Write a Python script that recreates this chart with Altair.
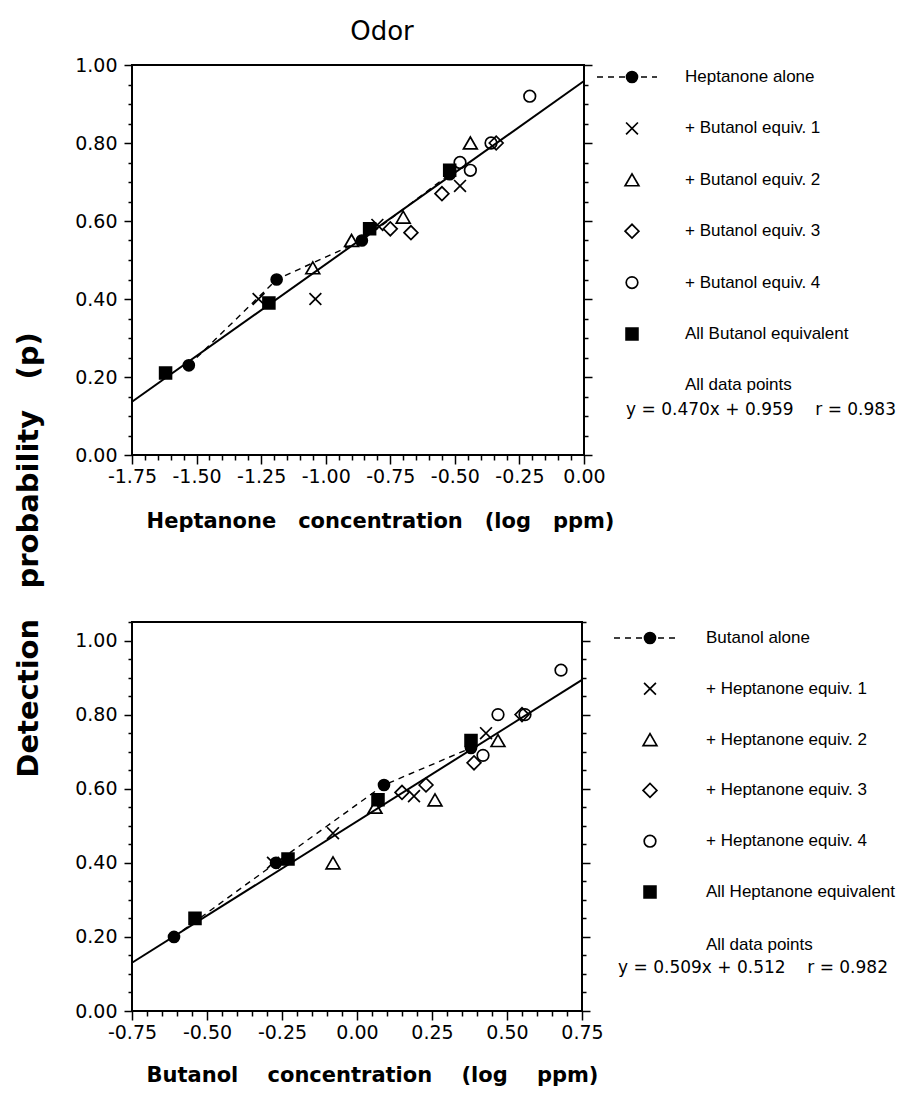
import altair as alt
import pandas as pd

# ---------------- data ----------------
KINDS = ["alone", "equiv1", "equiv2", "equiv3", "equiv4", "all"]

top_labels = ["Heptanone alone", "+ Butanol equiv. 1", "+ Butanol equiv. 2",
              "+ Butanol equiv. 3", "+ Butanol equiv. 4", "All Butanol equivalent"]
hep_alone_x = [-1.53, -1.19, -0.86, -0.52]
hep_alone_p = [0.23, 0.45, 0.55, 0.72]
but1_x = [-1.26, -1.04, -0.80, -0.48]
but1_p = [0.40, 0.40, 0.59, 0.69]
but2_x = [-1.05, -0.90, -0.70, -0.44]
but2_p = [0.48, 0.55, 0.61, 0.80]
but3_x = [-0.75, -0.67, -0.55, -0.34]
but3_p = [0.58, 0.57, 0.67, 0.80]
but4_x = [-0.48, -0.44, -0.36, -0.21]
but4_p = [0.75, 0.73, 0.80, 0.92]
all_but_x = [-1.62, -1.22, -0.83, -0.52]
all_but_p = [0.21, 0.39, 0.58, 0.73]
top_slope, top_intercept, top_r = 0.470, 0.959, 0.983

bot_labels = ["Butanol alone", "+ Heptanone equiv. 1", "+ Heptanone equiv. 2",
              "+ Heptanone equiv. 3", "+ Heptanone equiv. 4", "All Heptanone equivalent"]
but_alone_x = [-0.61, -0.27, 0.09, 0.38]
but_alone_p = [0.20, 0.40, 0.61, 0.71]
hep1_x = [-0.28, -0.08, 0.19, 0.43]
hep1_p = [0.40, 0.48, 0.58, 0.75]
hep2_x = [-0.08, 0.06, 0.26, 0.47]
hep2_p = [0.40, 0.55, 0.57, 0.73]
hep3_x = [0.15, 0.23, 0.39, 0.55]
hep3_p = [0.59, 0.61, 0.67, 0.80]
hep4_x = [0.42, 0.47, 0.56, 0.68]
hep4_p = [0.69, 0.80, 0.80, 0.92]
all_hep_x = [-0.54, -0.23, 0.07, 0.38]
all_hep_p = [0.25, 0.41, 0.57, 0.73]
bot_slope, bot_intercept, bot_r = 0.509, 0.512, 0.982

top_xdomain = [-1.75, 0.0]
bot_xdomain = [-0.75, 0.75]

# ---------------- styles ----------------
X_PATH = "M-1,-1L1,1M1,-1L-1,1"
SHAPES = ["circle", X_PATH, "triangle-up", "diamond", "circle", "square"]
FILLS = ["black", "transparent", "transparent", "transparent", "transparent", "black"]
SIZES = [120, 140, 190, 190, 135, 140]

NB = "\u00a0"
FONT = "DejaVu Sans"
LEG_FONT = "Liberation Sans"


def frame(xs_list, ps_list):
    rows = []
    for kind, xs, ps in zip(KINDS, xs_list, ps_list):
        for x, p in zip(xs, ps):
            rows.append({"kind": kind, "x": x, "p": p})
    return pd.DataFrame(rows)


def ticks(lo, hi, step=0.05):
    n = int(round((hi - lo) / step))
    return [round(lo + i * step, 2) for i in range(n + 1)]


MAJ_X = "abs(datum.value*4 - round(datum.value*4)) < 0.001"
MAJ_Y = "abs(datum.value*5 - round(datum.value*5)) < 0.001"


def lab(test):
    return "(" + test + ") ? replace(format(datum.value, '.2f'), '\u2212', '-') : ''"


def tsize(test, major, minor):
    return {"condition": {"test": test, "value": major}, "value": minor}


def panel(df, labels, xdomain, ydomain, height, width, slope, intercept, r,
          xtitle, title_x, title_y, leg_sym_x, leg_txt_x, leg_dash, leg_y0, leg_y1,
          note_x, note_y, eq_x, eq_y, extra=None, title=None):
    xs = alt.Scale(domain=xdomain, nice=False, zero=False)
    ys = alt.Scale(domain=ydomain, nice=False, zero=False)
    xt = ticks(xdomain[0], xdomain[1])
    yt = ticks(ydomain[0], ydomain[1])
    x_axis = alt.Axis(values=xt, labelExpr=lab(MAJ_X), tickSize=tsize(MAJ_X, 9, 5),
                      title=xtitle, titleX=title_x, titleY=title_y, titleAlign="center",
                      titleBaseline="middle", titleFont=FONT, titleFontSize=21,
                      titleFontWeight="bold", titleColor="black", labelPadding=3,
                      grid=False, domain=False, labelFlush=False, labelOverlap=False)
    y_left = alt.Axis(values=yt, labelExpr=lab(MAJ_Y), tickSize=tsize(MAJ_Y, 8, 4),
                      title=None, labelPadding=7, grid=False, domain=False,
                      labelOverlap=False, labelFlush=False)
    y_right = alt.Axis(orient="right", values=yt, labels=False, tickSize=tsize(MAJ_Y, 8, 4),
                       title=None, grid=False, domain=False)

    shape_enc = alt.Shape("kind:N", scale=alt.Scale(domain=KINDS, range=SHAPES), legend=None)
    fill_enc = alt.Fill("kind:N", scale=alt.Scale(domain=KINDS, range=FILLS), legend=None)
    size_enc = alt.Size("kind:N", scale=alt.Scale(type="ordinal", domain=KINDS, range=SIZES), legend=None)

    reg_df = pd.DataFrame({"x": xdomain})
    reg = alt.Chart(reg_df).transform_calculate(
        p=f"{slope} * datum.x + {intercept}"
    ).mark_line(color="black", strokeWidth=2).encode(
        x=alt.X("x:Q", scale=xs, axis=x_axis),
        y=alt.Y("p:Q", scale=ys, axis=y_right),
    )
    dashed = alt.Chart(df[df.kind == "alone"]).mark_line(
        color="black", strokeWidth=1.4, strokeDash=[6, 5]
    ).encode(
        x=alt.X("x:Q", scale=xs, axis=x_axis),
        y=alt.Y("p:Q", scale=ys, axis=None),
        order="x:Q",
    )
    pts = alt.Chart(df).mark_point(filled=True, opacity=1, stroke="black", strokeWidth=1.7).encode(
        x=alt.X("x:Q", scale=xs, axis=x_axis),
        y=alt.Y("p:Q", scale=ys, axis=y_left),
        shape=shape_enc, fill=fill_enc, size=size_enc,
    )
    plot = alt.layer(reg, dashed, pts).resolve_axis(y="independent")

    leg_df = pd.DataFrame({"kind": KINDS, "label": labels, "idx": list(range(len(KINDS)))})
    ly = alt.Y("idx:Q", scale=alt.Scale(domain=[0, len(KINDS) - 1], range=[leg_y0, leg_y1]), axis=None)
    leg_line = alt.Chart(leg_df).transform_filter("datum.idx == 0").mark_rule(
        color="black", strokeWidth=1.4, strokeDash=[6, 5]
    ).encode(x=alt.value(leg_dash[0]), x2=alt.value(leg_dash[1]), y=ly)
    leg_pts = alt.Chart(leg_df).mark_point(filled=True, opacity=1, stroke="black", strokeWidth=1.7).encode(
        x=alt.value(leg_sym_x), y=ly, shape=shape_enc, fill=fill_enc, size=size_enc)
    leg_txt = alt.Chart(leg_df).mark_text(
        align="left", baseline="middle", font=LEG_FONT, fontSize=17, color="black"
    ).encode(x=alt.value(leg_txt_x), y=ly, text="label:N")

    eq = f"y = {slope:.3f}x + {intercept:.3f}{NB}{NB}{NB} r = {r:.3f}"
    notes = alt.Chart(pd.DataFrame({"t": ["All data points"]})).mark_text(
        align="left", baseline="middle", font=LEG_FONT, fontSize=17, color="black"
    ).encode(x=alt.value(note_x), y=alt.value(note_y), text="t:N")
    eqn = alt.Chart(pd.DataFrame({"t": [eq]})).mark_text(
        align="center", baseline="middle", font=FONT, fontSize=17, color="black"
    ).encode(x=alt.value(eq_x), y=alt.value(eq_y), text="t:N")

    layers = [plot, leg_line, leg_pts, leg_txt, notes, eqn]
    if extra is not None:
        layers.append(extra)
    ch = alt.layer(*layers).resolve_scale(y="independent").properties(width=width, height=height)
    if title is not None:
        ch = ch.properties(title=title)
    return ch


top_df = frame([hep_alone_x, but1_x, but2_x, but3_x, but4_x, all_but_x],
               [hep_alone_p, but1_p, but2_p, but3_p, but4_p, all_but_p])
bot_df = frame([but_alone_x, hep1_x, hep2_x, hep3_x, hep4_x, all_hep_x],
               [but_alone_p, hep1_p, hep2_p, hep3_p, hep4_p, all_hep_p])

ytitle = alt.Chart(pd.DataFrame({"t": [f"Detection{NB}{NB} probability{NB}{NB} (p)"]})).mark_text(
    angle=270, align="center", baseline="middle", font=FONT, fontSize=29,
    fontWeight="bold", color="black"
).encode(x=alt.value(-103), y=alt.value(490), text="t:N")

top = panel(top_df, top_labels, top_xdomain, [0, 1.0], 390, 452,
            top_slope, top_intercept, top_r,
            f"Heptanone{NB}{NB} concentration{NB}{NB} (log{NB}{NB} ppm)", 248, 66,
            500, 553, (465, 525), 12, 269, 553, 320, 629, 345, extra=ytitle,
            title=alt.TitleParams("Odor", font=FONT, fontSize=26, fontWeight="normal",
                                  anchor="middle", dx=24, offset=11, color="black"))
bot = panel(bot_df, bot_labels, bot_xdomain, [0, 1.05], 389, 450,
            bot_slope, bot_intercept, bot_r,
            f"Butanol{NB}{NB}{NB} concentration{NB}{NB}{NB} (log{NB}{NB}{NB} ppm)", 240, 64,
            518, 574, (482, 545), 16, 270, 574, 323, 621, 346)

chart = alt.vconcat(top, bot, spacing=167, bounds="flush").properties(
    padding={"left": 6, "top": 10, "right": 5, "bottom": 5},
    background="white",
).configure_view(
    stroke="black", strokeWidth=2
).configure_axis(
    labelFont=FONT, labelFontSize=19, labelColor="black",
    tickColor="black", tickWidth=1.5,
)

chart.save("out.html", embed_options={"renderer": "svg", "actions": False})
